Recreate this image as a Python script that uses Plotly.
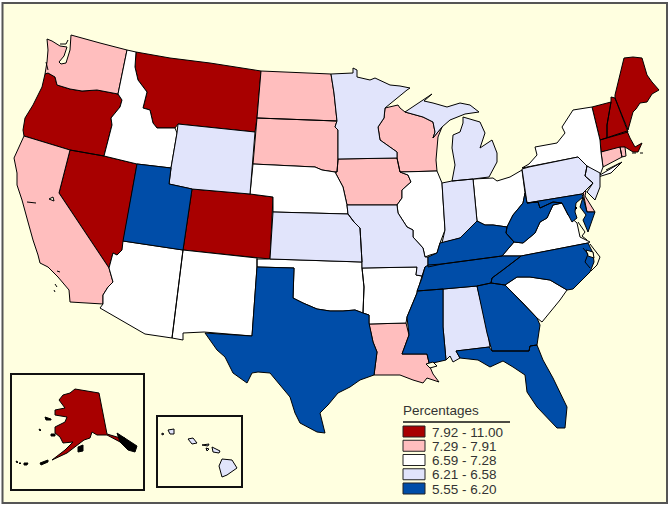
import plotly.graph_objects as go

# ---- classes (percentages) ----
class_labels = ["7.92 - 11.00", "7.29 - 7.91", "6.59 - 7.28", "6.21 - 6.58", "5.55 - 6.20"]
class_colors = ["#a80000", "#ffbebe", "#ffffff", "#e1e4fb", "#004da8"]
class_states = [
    ["OR", "NV", "CO", "MT", "ME", "NH", "VT", "MA", "DC", "AK"],
    ["WA", "CA", "ND", "SD", "WI", "IA", "LA", "CT", "RI", "DE"],
    ["ID", "AZ", "NM", "NE", "OK", "AR", "IL", "SC", "VA", "OH", "NY"],
    ["WY", "MN", "KS", "MO", "IN", "MI", "AL", "PA", "NJ", "HI"],
    ["UT", "TX", "MS", "TN", "KY", "WV", "NC", "GA", "FL", "MD"],
]
legend_title = "Percentages"

# ---- state outlines in map units ----
outlines = {
"WA": [[(47,39),(52,41),(60,46),(67,47),(64,56),(59,62),(61,64),(66,63),(70,50),(71,35),(100,43),(127,50),(118,94),(97,90),(82,91),(70,89),(57,85),(55,77),(48,73),(45,74),(47,62),(48,50)]],
"OR": [[(45,74),(48,73),(55,77),(57,85),(70,89),(82,91),(97,90),(118,94),(122,100),(120,107),(111,118),(112,125),(104,156),(70,150),(24,136),(23,130),(25,118),(33,105),(42,87)]],
"CA": [[(24,136),(70,150),(59,193),(109,268),(111,275),(113,282),(108,287),(103,295),(103,304),(70,302),(69,290),(58,277),(48,267),(40,263),(38,255),(33,240),(28,222),(25,210),(22,200),(17,185),(17,173),(14,158),(20,145)]],
"NV": [[(70,150),(104,156),(137,164),(123,241),(122,250),(117,255),(113,253),(109,268),(59,193)]],
"ID": [[(127,50),(136,52),(135,67),(138,80),(147,92),(143,108),(150,110),(153,123),(157,128),(175,128),(177,133),(171,168),(137,164),(104,156),(112,125),(111,118),(120,107),(122,100),(118,94)]],
"MT": [[(136,52),(170,58),(210,63),(261,71),(257,118),(255,132),(178,124),(175,128),(157,128),(153,123),(150,110),(143,108),(147,92),(138,80),(135,67)]],
"WY": [[(178,124),(255,132),(250,194),(192,189),(169,184),(171,168),(177,133)]],
"UT": [[(137,164),(171,168),(169,184),(192,189),(183,250),(123,241)]],
"CO": [[(192,189),(250,194),(273,197),(270,259),(183,250)]],
"AZ": [[(123,241),(183,250),(172,338),(145,334),(100,308),(103,304),(103,295),(108,287),(113,282),(111,275),(109,268),(113,253),(117,255),(122,250)]],
"NM": [[(183,250),(257,258),(257,267),(252,336),(204,332),(183,333),(183,340),(172,338)]],
"TX": [[(257,267),(294,268),(293,298),(303,303),(317,309),(330,311),(343,311),(355,310),(363,313),(369,315),(369,323),(373,342),(377,352),(374,375),(360,380),(350,387),(338,393),(328,405),(320,413),(325,433),(317,432),(300,423),(295,413),(290,397),(280,385),(270,373),(258,372),(252,373),(247,383),(233,373),(225,357),(217,350),(205,333),(252,336)]],
"OK": [[(257,259),(270,259),(362,262),(362,268),(364,287),(363,313),(355,310),(343,311),(330,311),(317,309),(303,303),(293,298),(294,268),(257,267)]],
"KS": [[(273,212),(348,214),(354,222),(360,228),(362,262),(270,259)]],
"NE": [[(253,164),(315,167),(322,170),(335,172),(343,187),(347,205),(348,214),(273,212),(273,197),(250,194)]],
"SD": [[(257,118),(337,121),(335,127),(338,130),(338,160),(337,172),(335,172),(322,170),(315,167),(253,164)]],
"ND": [[(261,71),(331,74),(334,93),(337,121),(257,118)]],
"MN": [[(331,74),(353,73),(353,68),(357,70),(357,77),(370,80),(375,78),(390,85),(400,86),(410,88),(407,90),(385,108),(384,118),(378,127),(380,140),(397,152),(397,158),(338,159),(338,130),(335,127),(337,121),(334,93)]],
"IA": [[(338,159),(397,158),(400,172),(408,175),(411,182),(402,190),(402,198),(397,205),(347,205),(343,187),(335,172),(337,172)]],
"WI": [[(385,108),(398,105),(400,108),(405,112),(423,117),(433,122),(435,132),(433,138),(442,127),(438,137),(436,160),(437,171),(400,172),(397,158),(397,152),(380,140),(378,127),(384,118)]],
"MI": [[(405,112),(423,100),(432,94),(424,101),(433,103),(447,107),(460,103),(470,105),(479,112),(465,114),(450,120),(442,127),(433,138),(435,132),(433,122),(423,117)],
       [(463,117),(480,122),(485,133),(480,148),(492,140),(497,153),(497,162),(489,177),(473,179),(452,181),(455,165),(452,148),(453,135),(460,132),(463,123)]],
"IL": [[(400,172),(437,171),(442,183),(445,230),(440,243),(437,253),(430,255),(425,257),(423,248),(413,237),(413,230),(407,227),(398,213),(397,205),(402,198),(402,190),(411,182),(408,175)]],
"IN": [[(442,183),(452,181),(473,179),(477,221),(468,230),(460,238),(442,243),(445,230)]],
"OH": [[(473,179),(493,178),(497,181),(510,177),(522,170),(525,193),(523,203),(513,215),(507,227),(493,225),(485,225),(477,221)]],
"KY": [[(477,221),(485,225),(493,225),(507,227),(506,233),(514,242),(502,256),(442,264),(428,267),(428,257),(437,253),(440,243),(460,238),(468,230)]],
"WV": [[(525,193),(527,203),(538,202),(540,208),(553,202),(562,203),(553,205),(547,218),(540,222),(535,233),(523,243),(514,242),(506,233),(507,227),(513,215),(523,203)]],
"VA": [[(502,256),(514,242),(523,243),(535,233),(540,222),(547,218),(553,205),(562,203),(568,215),(577,223),(580,237),(590,242),(588,243),(521,256)]],
"MD": [[(527,203),(582,194),(583,197),(576,203),(575,212),(577,218),(572,222),(568,215),(562,203),(553,202),(540,208),(538,202)],
       [(583,197),(587,212),(595,212),(588,232),(583,220),(586,215),(580,207)]],
"DE": [[(583,192),(586,191),(585,196),(595,212),(587,212)]],
"DC": [[(572,203),(577,208),(572,213),(567,208)]],
"NC": [[(588,243),(593,253),(594,262),(590,272),(573,289),(567,290),(550,280),(530,277),(517,277),(505,285),(491,283),(492,278),(503,270),(520,257),(521,256)]],
"TN": [[(428,265),(442,264),(502,256),(521,256),(520,257),(503,270),(492,278),(491,283),(477,286),(443,289),(417,291),(422,278),(425,267)]],
"SC": [[(505,285),(517,277),(530,277),(550,280),(567,290),(560,300),(542,322),(537,318),(523,303)]],
"GA": [[(477,286),(491,283),(505,285),(523,303),(537,318),(540,325),(537,345),(530,346),(529,351),(492,351),(487,333)]],
"FL": [[(456,351),(489,347),(492,351),(529,351),(530,346),(537,345),(543,360),(553,378),(567,407),(565,428),(557,428),(547,418),(537,407),(527,392),(525,375),(513,367),(503,361),(490,367),(478,360),(460,358)]],
"AL": [[(443,289),(477,286),(487,327),(490,347),(456,351),(460,358),(453,362),(450,356),(446,360),(443,327)]],
"MS": [[(417,291),(443,289),(443,327),(446,360),(433,363),(430,367),(427,354),(402,354),(409,335),(407,317),(417,293)]],
"LA": [[(369,324),(406,323),(409,335),(402,354),(427,354),(430,367),(433,374),(439,382),(427,378),(423,383),(413,380),(400,375),(374,375),(377,352),(373,342)]],
"AR": [[(362,268),(417,267),(416,275),(422,276),(417,293),(407,317),(406,323),(369,324),(369,315),(363,313),(364,287)]],
"MO": [[(347,205),(397,205),(398,213),(407,227),(413,230),(413,237),(423,248),(425,257),(428,257),(428,267),(425,267),(422,276),(416,275),(417,267),(362,268),(362,262),(360,228),(354,222),(348,214)]],
"NY": [[(522,168),(529,164),(537,155),(535,147),(557,143),(565,133),(562,127),(573,110),(592,107),(600,140),(601,152),(603,167),(600,175),(622,162),(611,173),(598,177),(598,175),(587,166),(578,157),(529,167)]],
"PA": [[(522,169),(529,167),(578,157),(587,166),(585,176),(593,183),(582,194),(527,203)]],
"NJ": [[(587,166),(600,173),(600,187),(595,200),(587,192),(593,183),(585,176)]],
"CT": [[(601,152),(620,147),(622,157),(603,167)]],
"RI": [[(620,147),(625,147),(626,156),(622,157)]],
"MA": [[(600,140),(627,131),(630,138),(635,147),(642,143),(638,152),(633,152),(625,147),(601,152)]],
"VT": [[(592,107),(611,102),(607,125),(607,138),(600,140)]],
"NH": [[(611,97),(615,98),(628,132),(607,138),(607,125),(611,102)]],
"ME": [[(615,95),(624,58),(633,57),(642,58),(647,75),(652,82),(659,90),(652,94),(647,102),(640,103),(636,109),(633,112),(628,130),(615,98)]],
"AK": [[(75,389),(99,393),(107,434),(117,437),(125,438),(122,443),(107,435),(97,435),(92,432),(90,438),(84,440),(77,445),(67,453),(52,460),(65,450),(73,442),(63,443),(60,437),(55,433),(55,427),(65,422),(67,417),(55,415),(55,410),(65,408),(59,400),(63,395),(70,393)]],
"HI": [[(222,459),(232,460),(237,468),(227,475),(222,477),(219,466)],
       [(212,447),(216,449),(220,451),(219,453),(213,452)],
       [(202,445),(209,444),(208,446)],[(206,448),(209,449),(207,451)],
       [(188,439),(193,438),(197,443),(192,444)],
       [(168,430),(174,429),(174,434),(170,434)],[(162,433),(164,434),(162,435)]],
}
water = [
    [(426,364),(433,362),(437,366),(430,368)],
    [(586,250),(593,252),(594,258),(588,256)],
    [(49,199),(53,197),(54,201)],
]
black_land = [
    [(117,433),(125,438),(137,446),(135,452),(128,450),(120,442)],
    [(78,447),(83,445),(83,451),(78,452)],
    [(45,417),(51,419),(51,420),(46,420)],
    [(51,434),(55,434),(55,436),(51,436)],
    [(39,429),(41,430),(40,431)],
    [(40,463),(48,460),(48,462),(41,465)],
    [(24,463),(28,463),(27,465),(24,465)],
    [(16,461),(18,462),(17,463)],
    [(19,463),(21,463),(20,464)],
]
coast_lines = [
    [(578,222),(585,232),(582,236),(587,240)],
    [(583,248),(588,254),(585,262),(590,268)],
    [(590,244),(600,257),(597,265),(591,271)],
    [(60,44),(66,44),(68,40)],
    [(48,70),(46,62)],
    [(27,202),(36,203)],
    [(57,271),(60,272)],[(55,284),(57,287)],[(54,290),(55,292)],
    [(632,153),(636,153)],[(640,153),(643,153)],
    [(606,170),(620,163)],
]

def flat(polys):
    xs, ys = [], []
    for poly in polys:
        pts = list(poly) + [poly[0]]
        xs += [p[0] for p in pts] + [None]
        ys += [p[1] for p in pts] + [None]
    return xs, ys

fig = go.Figure()
for states, color in zip(class_states, class_colors):
    polys = [p for s in states for p in outlines[s]]
    x, y = flat(polys)
    fig.add_trace(go.Scatter(x=x, y=y, mode="lines", fill="toself", fillcolor=color,
                             line=dict(color="#000000", width=1), hoverinfo="skip", showlegend=False))
x, y = flat(water)
fig.add_trace(go.Scatter(x=x, y=y, mode="lines", fill="toself", fillcolor="#ffffe0",
                         line=dict(color="#000000", width=1), hoverinfo="skip", showlegend=False))
x, y = flat(black_land)
fig.add_trace(go.Scatter(x=x, y=y, mode="lines", fill="toself", fillcolor="#000000",
                         line=dict(color="#000000", width=1), hoverinfo="skip", showlegend=False))
lx, ly = [], []
for seg in coast_lines:
    lx += [p[0] for p in seg] + [None]
    ly += [p[1] for p in seg] + [None]
fig.add_trace(go.Scatter(x=lx, y=ly, mode="lines", line=dict(color="#000000", width=1),
                         hoverinfo="skip", showlegend=False))

shapes = [
    dict(type="rect", x0=2.5, y0=3, x1=667, y1=503, line=dict(color="#555555", width=2), fillcolor="#ffffe0", layer="below"),
    dict(type="rect", x0=11, y0=374, x1=144, y1=490, line=dict(color="#111111", width=2), fillcolor="rgba(0,0,0,0)", layer="below"),
    dict(type="rect", x0=157, y0=416, x1=242, y1=487, line=dict(color="#111111", width=2), fillcolor="rgba(0,0,0,0)", layer="below"),
    dict(type="line", x0=403, y0=422, x1=510, y1=422, line=dict(color="#111111", width=1.5)),
]
annotations = [dict(x=400.5, y=410, text=legend_title, xanchor="left", yanchor="middle", showarrow=False,
                    font=dict(family="Liberation Sans", size=13.5, color="#333333"))]
for i, (lab, col) in enumerate(zip(class_labels, class_colors)):
    top = 426 + i * 14.25
    shapes.append(dict(type="rect", x0=403, y0=top, x1=425, y1=top + 11, fillcolor=col, line=dict(color="#222222", width=1)))
    annotations.append(dict(x=429.5, y=top + 6, text=lab, xanchor="left", yanchor="middle", showarrow=False,
                            font=dict(family="Liberation Sans", size=13.5, color="#333333")))

fig.update_layout(
    width=672, height=508, margin=dict(l=0, r=0, t=0, b=0),
    paper_bgcolor="#ffffff", plot_bgcolor="#ffffff",
    xaxis=dict(range=[0, 672], visible=False, fixedrange=True),
    yaxis=dict(range=[508, 0], visible=False, fixedrange=True),
    shapes=shapes, annotations=annotations,
)
fig.write_html("out.html", config={"displayModeBar": False},
               post_script="document.body.style.margin='0';document.documentElement.style.overflow='hidden';")
